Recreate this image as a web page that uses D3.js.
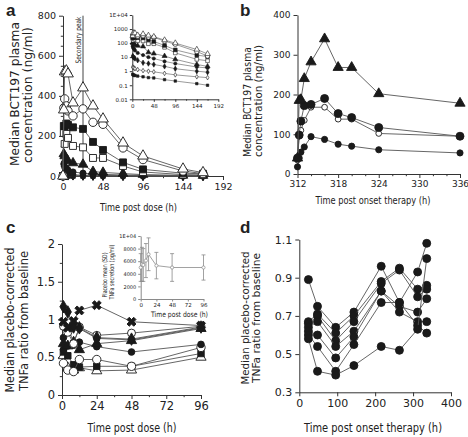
<!DOCTYPE html>
<html><head><meta charset="utf-8">
<script src="https://cdn.jsdelivr.net/npm/d3@7"></script>
<style>
body{margin:0;background:#fff}
svg{display:block}
text{font-family:"DejaVu Sans",Verdana,sans-serif;fill:#222}
</style>
</head><body><svg id="c" width="468" height="437"></svg>
<script>
// ---------- Panel a data ----------
const aTimes = [0, 1, 2, 4, 6, 12, 24, 36, 48, 72, 96, 144, 168];
const aOpenTri   = [0, 330, 520, 525, 510, 365, 440, 350, 285, 165, 100, 35, 17];
const aOpenCirc  = [0, 340, 385, 350, 325, 300, 335, 268, 258, 140, 82, 25, 12];
const aFillSq    = [0, 250, 248, 262, 255, 243, 235, 170, 130, 68, 33, 14, 11];
const aOpenSq    = [0, 215, 160, 210, 190, 150, 143, 90, 90, 50, 20, 7, 5.5];
const aFillTri   = [0, 110, 100, 85, 75, 65, 58, 22, 18, 12, 7, 3, 2.2];
const aFillCirc  = [0, 60, 45, 38, 30, 20, 14, 10, 8, 5, 3.5, 2, 1.7];
const aFillDiam  = [0, 12, 10, 9, 8, 6, 4, 3.5, 3, 2.2, 1.5, 1, 0.85];
const aOpenDiam  = [0, 2, 1.8, 1.7, 1.5, 1.3, 1.1, 1, 0.9, 0.7, 0.55, 0.4, 0.35];
const aSmallSq   = [0, 0.6, 0.55, 0.5, 0.5, 0.45, 0.4, 0.35, 0.33, 0.25, 0.2, 0.13, 0.1];
const aXTicks = [0, 48, 96, 144, 192];
const aYTicks = [0, 200, 400, 600, 800];
const aInsetYTicks = [0.01, 0.1, 1, 10, 100, 1000, 10000];
const aPeakTime = 24;

// ---------- Panel b data ----------
const bTimes = [312, 312.25, 312.5, 313, 314, 316, 318, 320, 324, 336];
const bTri      = [40, 185, 187, 240, 282, 340, 268, 268, 202, 178];
const bCircHigh = [40, 98, 133, 172, 175, 190, 152, 142, 117, 95];
const bCircOpen = [35, 95, 110, 135, 168, 168, 138, 138, 102, 95];
const bCircLow  = [18, 40, 55, 68, 94, 87, 75, 70, 61, 53];
const bXTicks = [312, 318, 324, 330, 336];
const bYTicks = [0, 100, 200, 300, 400];

// ---------- Panel c data ----------
const cTimes = [1, 4, 8, 12, 24, 48, 96];
const cCross     = [0.97, 0.89, 0.98, 1.12, 1.19, 0.97, 0.92];
const cDiam      = [1.17, 1.10, 0.90, 0.89, 0.76, 0.74, 0.90];
const cCircOpenH = [0.91, 0.83, 0.68, 0.90, 0.79, 0.82, 0.91];
const cCircH     = [0.76, 0.89, 0.70, 0.88, 0.75, 0.73, 0.89];
const cTriFill   = [0.68, 0.65, 0.70, 0.60, 0.68, 0.72, 0.88];
const cCircL     = [0.60, 0.65, 0.66, 0.70, 0.64, 0.57, 0.67];
const cCircOpenL = [0.42, 0.33, 0.31, 0.47, 0.47, 0.38, 0.63];
const cSqFill    = [0.57, 0.52, 0.40, 0.37, 0.38, 0.38, 0.55];
const cTriOpen   = [0.52, 0.36, 0.33, 0.36, 0.32, 0.33, 0.50];
const cXTicks = [0, 24, 48, 72, 96];
const cYTicks = [0, 0.5, 1, 1.5, 2];
const cInsetTimes = [0, 2, 4, 8, 12, 24, 48, 96];
const cInsetMean  = [5000, 5500, 5400, 6100, 7100, 5300, 5000, 5000];
const cInsetSD    = [2200, 2700, 2600, 2700, 2600, 2100, 2200, 2000];
const cInsetYTicks = [0, 2000, 4000, 6000, 8000, 10000];

// ---------- Panel d data ----------
const dTimes = [24, 48, 96, 144, 216, 264, 312, 336];
const dS1 = [0.89, 0.75, 0.64, 0.72, 0.96, 0.77, 0.93, 1.08];
const dS2 = [0.67, 0.71, 0.61, 0.70, 0.88, 0.95, 0.84, 0.86];
const dS3 = [0.66, 0.70, 0.57, 0.67, 0.87, 0.94, 0.80, 0.84];
const dS4 = [0.64, 0.67, 0.54, 0.62, 0.83, 0.75, 0.72, 0.79];
const dS5 = [0.62, 0.60, 0.48, 0.59, 0.83, 0.72, 0.67, 0.67];
const dS6 = [0.60, 0.54, 0.41, 0.55, 0.77, 0.77, 0.65, 0.61];
const dS7 = [0.58, 0.41, 0.39, 0.44, 0.54, 0.52, 0.63, 1.00];
const dXTicks = [0, 100, 200, 300, 400];
const dYTicks = [0.3, 0.5, 0.7, 0.9, 1.1];

// ---------- helpers ----------
const svg = d3.select("#c");
const INK = "#1a1a1a", LINE = "#555";
const SYM = {triangle: d3.symbolTriangle, circle: d3.symbolCircle, square: d3.symbolSquare,
             diamond: d3.symbolDiamond, cross: d3.symbolCross};

function drawAxis(g, scale, orient, ticks, opts) {
  const o = Object.assign({size: 4, pad: 3, font: 10, fmt: null, minor: null, color: "#333"}, opts);
  const ax = (orient === "bottom" ? d3.axisBottom(scale) : d3.axisLeft(scale))
    .tickValues(ticks).tickSizeOuter(0).tickSizeInner(o.size).tickPadding(o.pad);
  if (o.fmt) ax.tickFormat(o.fmt);
  const a = g.append("g").attr("transform", o.t).call(ax);
  a.select(".domain").attr("stroke", o.color);
  a.selectAll(".tick line").attr("stroke", o.color);
  a.selectAll(".tick text").attr("font-size", o.font).attr("fill", o.color === "#333" ? "#222" : o.color)
    .style("font-family", '"DejaVu Sans",Verdana,sans-serif');
  if (o.minor) {
    const mx = (orient === "bottom" ? d3.axisBottom(scale) : d3.axisLeft(scale))
      .tickValues(o.minor).tickSizeOuter(0).tickSizeInner(o.size * 0.55).tickFormat("");
    const m = g.append("g").attr("transform", o.t).call(mx);
    m.select(".domain").remove();
    m.selectAll(".tick line").attr("stroke", o.color);
  }
  return a;
}

function drawSeries(g, x, y, times, vals, st) {
  const pts = times.map((t, i) => [t, vals[i]]).filter(p => p[1] != null);
  g.append("path").datum(pts)
    .attr("d", d3.line().x(p => x(p[0])).y(p => y(p[1])))
    .attr("fill", "none").attr("stroke", st.line || LINE).attr("stroke-width", st.lw || 0.9);
  g.selectAll(null).data(pts).enter().append("path")
    .attr("d", d3.symbol().type(SYM[st.shape]).size(st.size))
    .attr("transform", p => `translate(${x(p[0])},${y(p[1])})` + (st.rot ? ` rotate(${st.rot})` : ""))
    .attr("fill", st.fill ? (st.color || INK) : "#fff")
    .attr("stroke", st.color || INK).attr("stroke-width", st.sw || 0.9);
}

function fitText(sel, len) {
  if (len) sel.attr("textLength", len).attr("lengthAdjust", "spacingAndGlyphs");
  return sel;
}
function vText(s, cx, cy, font, len, fill) {
  return fitText(svg.append("text").attr("transform", `translate(${cx},${cy}) rotate(-90)`)
    .attr("text-anchor", "middle").attr("dominant-baseline", "middle")
    .attr("font-size", font).attr("fill", fill || "#222").text(s), len);
}
function hText(s, cx, cy, font, len, fill) {
  return fitText(svg.append("text").attr("x", cx).attr("y", cy).attr("text-anchor", "middle")
    .attr("dominant-baseline", "middle").attr("font-size", font).attr("fill", fill || "#222").text(s), len);
}
function panelLabel(s, x, y) {
  svg.append("text").attr("x", x).attr("y", y).attr("font-size", 17).attr("font-weight", "bold")
    .style("font-family", '"Liberation Sans",Arial,sans-serif').attr("fill", "#000").text(s);
}

// ================= Panel a =================
{
  const x = d3.scaleLinear().domain([0, 192]).range([63, 223]);
  const y = d3.scaleLinear().domain([0, 800]).range([176, 15.7]);
  const g = svg.append("g");
  drawAxis(g, x, "bottom", aXTicks, {t: `translate(0,176)`, font: 9.5, minor: [24, 72, 120, 168]});
  drawAxis(g, y, "left", aYTicks, {t: `translate(63,0)`, font: 9.5, minor: d3.range(50, 800, 50).filter(v => v % 200)});
  g.append("line").attr("x1", x(aPeakTime)).attr("x2", x(aPeakTime)).attr("y1", y(800)).attr("y2", y(0))
    .attr("stroke", "#444").attr("stroke-width", 1);
  vText("Secondary peak", x(aPeakTime) - 4.5, 40, 7.5, 47, "#333");
  const styles = [
    {v: aSmallSq, shape: "square", fill: true, size: 22},
    {v: aOpenDiam, shape: "diamond", fill: false, size: 22},
    {v: aFillDiam, shape: "diamond", fill: true, size: 30},
    {v: aFillCirc, shape: "circle", fill: true, size: 30},
    {v: aFillTri, shape: "triangle", fill: true, size: 40},
    {v: aOpenSq, shape: "square", fill: false, size: 48},
    {v: aFillSq, shape: "square", fill: true, size: 48},
    {v: aOpenCirc, shape: "circle", fill: false, size: 55},
    {v: aOpenTri, shape: "triangle", fill: false, size: 50},
  ];
  styles.forEach(s => drawSeries(g, x, y, aTimes, s.v, s));

  // inset (log)
  const xi = d3.scaleLinear().domain([0, 192]).range([132.3, 218.3]);
  const yi = d3.scaleLog().domain([0.01, 10000]).range([99.3, 15]);
  const gi = svg.append("g");
  drawAxis(gi, xi, "bottom", aXTicks, {t: `translate(0,99.3)`, font: 5.5, size: 2.5, pad: 2, minor: [24, 72, 120, 168]});
  drawAxis(gi, yi, "left", aInsetYTicks, {t: `translate(132.3,0)`, font: 5.5, size: 2.5, pad: 2,
    fmt: v => v === 10000 ? "1E+04" : String(v)});
  styles.forEach(s => {
    const st = Object.assign({}, s, {size: s.size * 0.28, lw: 0.6, sw: 0.6});
    drawSeries(gi, xi, yi, aTimes.slice(1), s.v.slice(1), st);
  });
  vText("Median BCT197 plasma", 15, 94, 12, 144);
  vText("concentration (ng/ml)", 28.5, 95, 12, 136);
  hText("Time post dose (h)", 138.5, 208, 10.5, 77);
  panelLabel("a", 6, 16);
}

// ================= Panel b =================
{
  const x = d3.scaleLinear().domain([312, 336]).range([297.5, 460]);
  const y = d3.scaleLinear().domain([0, 400]).range([174, 15]);
  const g = svg.append("g");
  drawAxis(g, x, "bottom", bXTicks, {t: `translate(0,174)`, font: 9, minor: [314, 316, 320, 322, 326, 328, 332, 334]});
  drawAxis(g, y, "left", bYTicks, {t: `translate(297.5,0)`, font: 9});
  drawSeries(g, x, y, bTimes, bCircLow, {shape: "circle", fill: true, size: 30});
  drawSeries(g, x, y, bTimes, bCircOpen, {shape: "circle", fill: false, size: 26});
  drawSeries(g, x, y, bTimes, bCircHigh, {shape: "circle", fill: true, size: 50});
  drawSeries(g, x, y, bTimes, bTri, {shape: "triangle", fill: true, size: 45});
  vText("Median BCT197 plasma", 248, 102, 10, 110);
  vText("concentration (ng/ml)", 258.5, 101, 10, 112);
  hText("Time post onset therapy (h)", 373, 201, 10, 115);
  panelLabel("b", 240, 16);
}

// ================= Panel c =================
{
  const x = d3.scaleLinear().domain([0, 96]).range([62, 201]);
  const y = d3.scaleLinear().domain([0, 2]).range([395, 244]);
  const g = svg.append("g");
  drawAxis(g, x, "bottom", cXTicks, {t: `translate(0,395)`, font: 11.5, minor: [12, 36, 60, 84]});
  drawAxis(g, y, "left", cYTicks, {t: `translate(62,0)`, font: 11.5, fmt: d3.format("~g"), minor: [0.25, 0.75, 1.25, 1.75]});
  const styles = [
    {v: cTriOpen, shape: "triangle", fill: false, size: 45},
    {v: cSqFill, shape: "square", fill: true, size: 42},
    {v: cCircOpenL, shape: "circle", fill: false, size: 55},
    {v: cCircL, shape: "circle", fill: true, size: 35},
    {v: cTriFill, shape: "triangle", fill: true, size: 45},
    {v: cCircH, shape: "circle", fill: true, size: 35},
    {v: cCircOpenH, shape: "circle", fill: false, size: 50},
    {v: cDiam, shape: "diamond", fill: true, size: 45},
    {v: cCross, shape: "cross", fill: true, size: 50, rot: 45},
  ];
  styles.forEach(s => drawSeries(g, x, y, cTimes, s.v, s));

  // inset
  const gray = "#8a8a8a";
  const xi = d3.scaleLinear().domain([0, 96]).range([140.7, 203.5]);
  const yi = d3.scaleLinear().domain([0, 10000]).range([299, 236]);
  const gi = svg.append("g");
  drawAxis(gi, xi, "bottom", cXTicks, {t: `translate(0,299)`, font: 5.5, size: 2.5, pad: 2, color: gray});
  drawAxis(gi, yi, "left", cInsetYTicks, {t: `translate(140.7,0)`, font: 5, size: 2.5, pad: 2, color: gray,
    fmt: v => v === 10000 ? "1E+04" : String(v)});
  const pts = cInsetTimes.map((t, i) => ({t, m: cInsetMean[i], s: cInsetSD[i]}));
  gi.selectAll(null).data(pts).enter().append("g").each(function(p) {
    const e = d3.select(this);
    e.append("line").attr("x1", xi(p.t)).attr("x2", xi(p.t)).attr("y1", yi(p.m - p.s)).attr("y2", yi(p.m + p.s))
      .attr("stroke", gray).attr("stroke-width", 0.8);
    [p.m - p.s, p.m + p.s].forEach(v => e.append("line").attr("x1", xi(p.t) - 2).attr("x2", xi(p.t) + 2)
      .attr("y1", yi(v)).attr("y2", yi(v)).attr("stroke", gray).attr("stroke-width", 0.8));
  });
  drawSeries(gi, xi, yi, cInsetTimes, cInsetMean, {shape: "circle", fill: false, size: 8, color: gray, line: gray, lw: 0.8, sw: 0.7});
  vText("Placebo mean (SD)", 105.5, 275, 6.5, 45, "#444");
  vText("TNFa secretion (pg/ml)", 112.5, 272, 6.5, 55, "#444");
  hText("Time post dose (h)", 179.5, 315, 7.5, 57, "#444");
  vText("Median placebo-corrected", 10, 320, 13, 145);
  vText("TNFa ratio from baseline", 24, 321, 13, 140);
  hText("Time post dose (h)", 132, 428, 12.5, 89);
  panelLabel("c", 6, 233);
}

// ================= Panel d =================
{
  const x = d3.scaleLinear().domain([0, 400]).range([299.3, 451]);
  const y = d3.scaleLinear().domain([0.3, 1.1]).range([392.3, 239.5]);
  const g = svg.append("g");
  drawAxis(g, x, "bottom", dXTicks, {t: `translate(0,392.3)`, font: 11});
  drawAxis(g, y, "left", dYTicks, {t: `translate(299.3,0)`, font: 11, fmt: d3.format(".1f")});
  [dS1, dS2, dS3, dS4, dS5, dS6, dS7].forEach(v =>
    drawSeries(g, x, y, dTimes, v, {shape: "circle", fill: true, size: 50}));
  vText("Median placebo-corrected", 246, 318, 11, 133);
  vText("TNFa ratio from baseline", 256.5, 318, 11, 130);
  hText("Time post onset therapy (h)", 373, 428, 11.5, 138);
  panelLabel("d", 240, 233);
}
</script></body></html>
